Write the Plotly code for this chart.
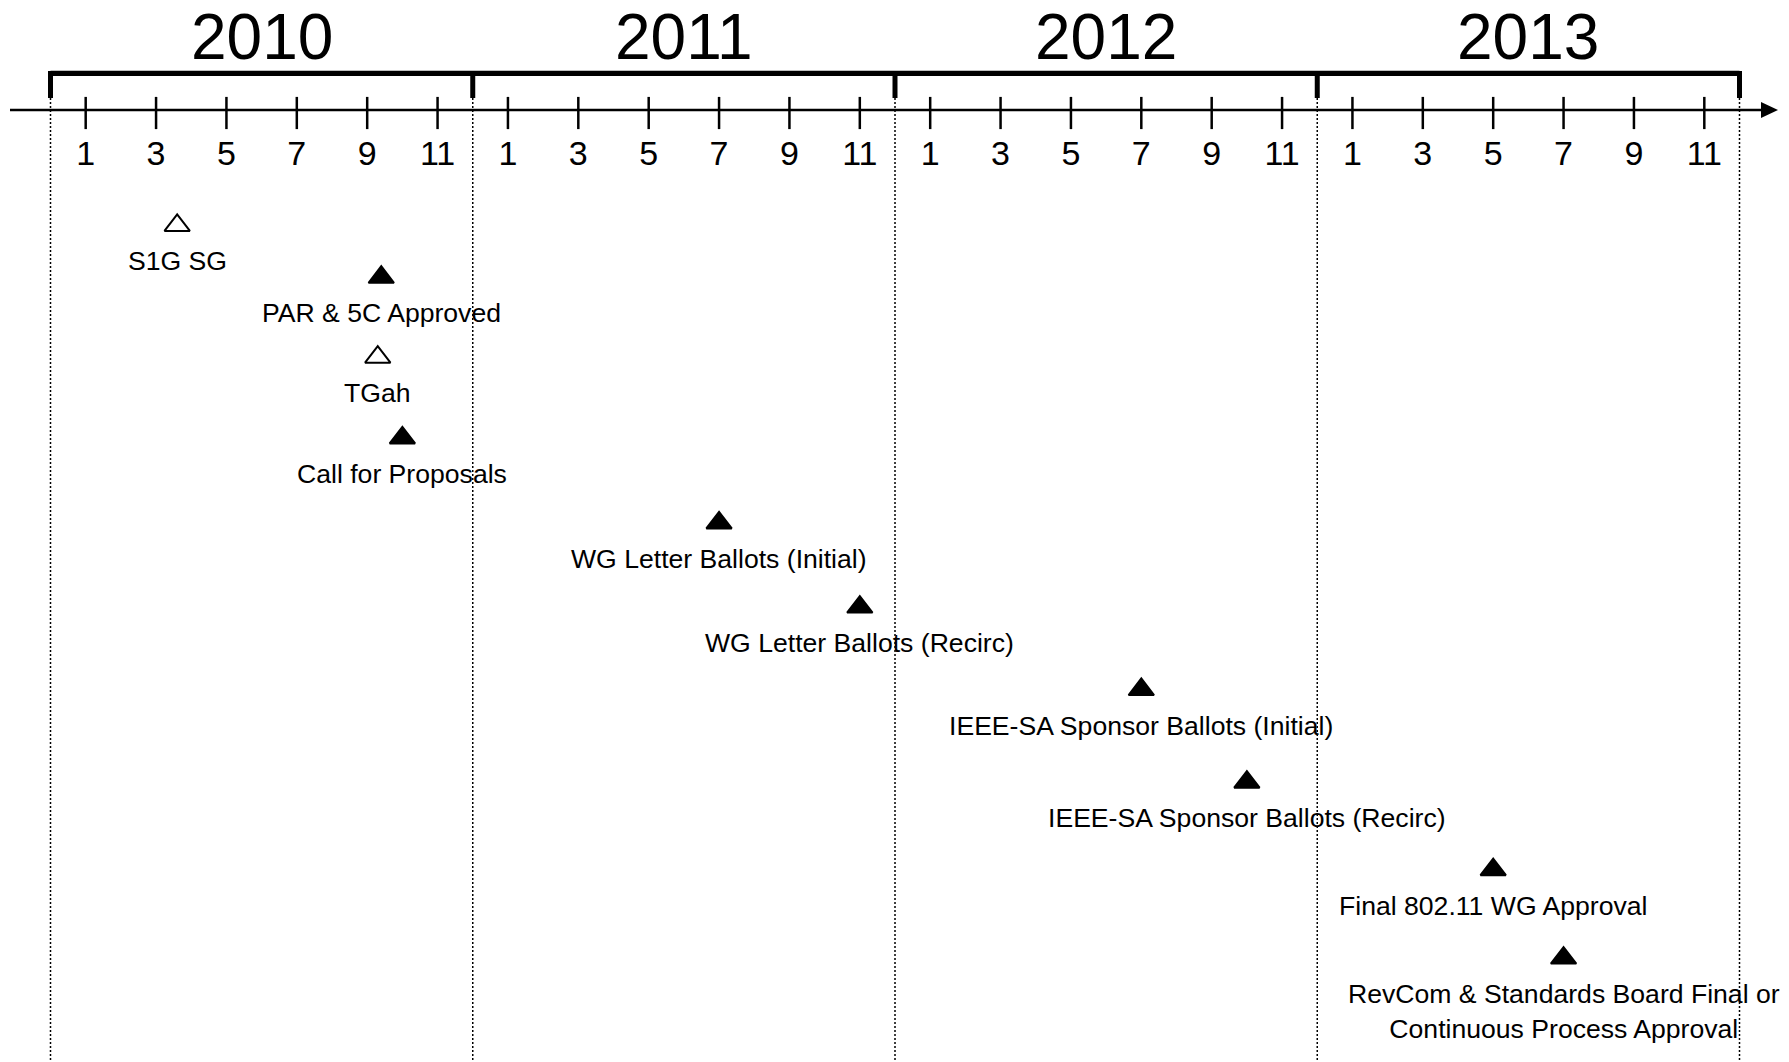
import plotly.graph_objects as go

# ---------------- data ----------------
YEARS = [2010, 2011, 2012, 2013]
TICK_MONTHS = [1, 3, 5, 7, 9, 11]

MILESTONES = [
    "S1G SG",
    "PAR & 5C Approved",
    "TGah",
    "Call for Proposals",
    "WG Letter Ballots (Initial)",
    "WG Letter Ballots (Recirc)",
    "IEEE-SA Sponsor Ballots (Initial)",
    "IEEE-SA Sponsor Ballots (Recirc)",
    "Final 802.11 WG Approval",
    "RevCom & Standards Board Final or<br>Continuous Process Approval",
]
MS_YEAR = [2010, 2010, 2010, 2010, 2011, 2011, 2012, 2012, 2013, 2013]
MS_MONTH = [3.6, 9.4, 9.3, 10.0, 7.0, 11.0, 7.0, 10.0, 5.0, 7.0]
MS_FILLED = [False, True, False, True, True, True, True, True, True, True]
MS_LANE = [0.0, 0.61, 1.55, 2.5, 3.5, 4.49, 5.46, 6.55, 7.58, 8.62]

# ---------------- layout geometry ----------------
W, H = 1789, 1062
OFF = 0               # page body margin is removed below (post_script)
X0_PX = 50.5          # window pixel of start of first year
YEAR_PX = 422.25      # pixels per year
LANE0_PX = 225.4      # window pixel row of lane 0
LANE_PX = 85.0        # pixels per lane
FONT = "Arial, 'Liberation Sans', sans-serif"


def px2x(p):
    return YEARS[0] + (p - X0_PX) / YEAR_PX


def px2lane(p):
    return (p - LANE0_PX) / LANE_PX


def py(p):
    return 1 - (p - OFF) / H


x_range = [px2x(OFF), px2x(OFF + W)]
y_range = [px2lane(OFF + H), px2lane(OFF)]

ms_x = [y + m / 12 for y, m in zip(MS_YEAR, MS_MONTH)]
tick_x = [y + m / 12 for y in YEARS for m in TICK_MONTHS]
tick_t = [str(m) for y in YEARS for m in TICK_MONTHS]
bounds = YEARS + [YEARS[-1] + 1]

fig = go.Figure()

# month tick marks crossing the time axis
fig.add_trace(go.Scatter(
    x=tick_x, y=[px2lane(113)] * len(tick_x), mode="markers",
    marker=dict(symbol="line-ns", size=23, line=dict(color="black", width=2.5)),
    hoverinfo="skip", showlegend=False,
))

# milestones
fig.add_trace(go.Scatter(
    x=ms_x, y=MS_LANE, mode="markers",
    marker=dict(symbol="triangle-up", size=22,
                color=["black" if f else "white" for f in MS_FILLED],
                line=dict(color="black", width=2)),
    text=MILESTONES, hoverinfo="text", showlegend=False,
))

annotations = []
for x, lane, name in zip(ms_x, MS_LANE, MILESTONES):
    annotations.append(dict(
        x=x, y=lane, xref="x", yref="y", text=name, showarrow=False,
        xanchor="center", yanchor="top", yshift=-19,
        font=dict(family=FONT, size=26.6, color="black"),
    ))
for yr in YEARS:
    annotations.append(dict(
        x=yr + 0.5, y=py(37), xref="x", yref="paper", text=str(yr),
        showarrow=False, xanchor="center", yanchor="middle",
        font=dict(family=FONT, size=64, color="black"),
    ))

shapes = []
# dotted year separators
for b in bounds:
    shapes.append(dict(type="line", xref="x", yref="paper", x0=b, x1=b,
                       y0=py(98), y1=0, layer="below",
                       line=dict(color="black", width=1.5, dash="2px,2px")))
# bracket
shapes.append(dict(type="line", xref="x", yref="paper", x0=bounds[0], x1=bounds[-1],
                   y0=py(73.3), y1=py(73.3), line=dict(color="black", width=5.3)))
for b in bounds:
    shapes.append(dict(type="line", xref="x", yref="paper", x0=b, x1=b,
                       y0=py(71), y1=py(98), line=dict(color="black", width=5)))
# time axis with arrow
shapes.append(dict(type="line", xref="x", yref="paper", x0=px2x(10), x1=px2x(1764),
                   y0=py(110), y1=py(110), line=dict(color="black", width=2.3)))
shapes.append(dict(type="path", xref="x", yref="paper",
                   path=f"M {px2x(1761)},{py(102)} L {px2x(1778)},{py(110)} L {px2x(1761)},{py(118)} Z",
                   fillcolor="black", line=dict(width=0)))

fig.update_layout(
    width=W, height=H, autosize=False,
    margin=dict(l=0, r=0, t=0, b=0),
    paper_bgcolor="white", plot_bgcolor="white",
    showlegend=False,
    xaxis=dict(range=x_range, tickvals=tick_x, ticktext=tick_t,
               showgrid=False, zeroline=False, showline=False, ticks="",
               anchor="free", position=py(110), side="bottom",
               ticklabelstandoff=20,
               tickfont=dict(family=FONT, size=34, color="black"),
               fixedrange=True),
    yaxis=dict(range=y_range, visible=False, fixedrange=True),
    annotations=annotations,
    shapes=shapes,
)

fig.write_html("out.html",
               config={"displayModeBar": False},
               post_script="document.body.style.margin='0px';document.body.style.overflow='hidden';")
